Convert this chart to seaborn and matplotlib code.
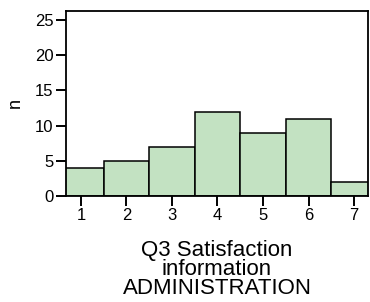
import matplotlib
matplotlib.use('Agg')
import matplotlib.pyplot as plt
import pandas as pd
import seaborn as sns

# Dados
niveis = [1, 2, 3, 4, 5, 6, 7]
contagens = [4, 5, 7, 12, 9, 11, 2]
rotulo_x = 'Q3 Satisfaction\ninformation\nADMINISTRATION'
rotulo_y = 'n'

df = pd.DataFrame({'nivel': niveis, 'n': contagens})

sns.set_style('ticks')
plt.rcParams['font.family'] = ['Liberation Sans', 'DejaVu Sans']
plt.rcParams['text.color'] = 'black'
plt.rcParams['axes.labelcolor'] = 'black'

fig = plt.figure(figsize=(3.7, 3.02), dpi=100)
ax = fig.add_axes([0.178, 0.351, 0.817, 0.613])

sns.histplot(data=df, x='nivel', weights='n', discrete=True, ax=ax,
             color='#c3e2c2', alpha=1, edgecolor='black', linewidth=1.1)

ax.set_xlim(0.67, 7.31)
ax.set_ylim(0, 26.3)
ax.set_xticks(niveis)
ax.set_yticks([0, 5, 10, 15, 20, 25])
ax.tick_params(direction='out', length=7, width=1.4, labelsize=12,
               colors='black', pad=2)
for s in ax.spines.values():
    s.set_linewidth(1.3)
    s.set_color('black')

ax.set_xlabel(rotulo_x, fontsize=16, linespacing=0.86, labelpad=12)
ax.set_ylabel(rotulo_y, fontsize=13, labelpad=8)

fig.savefig('out.png', dpi=100)
